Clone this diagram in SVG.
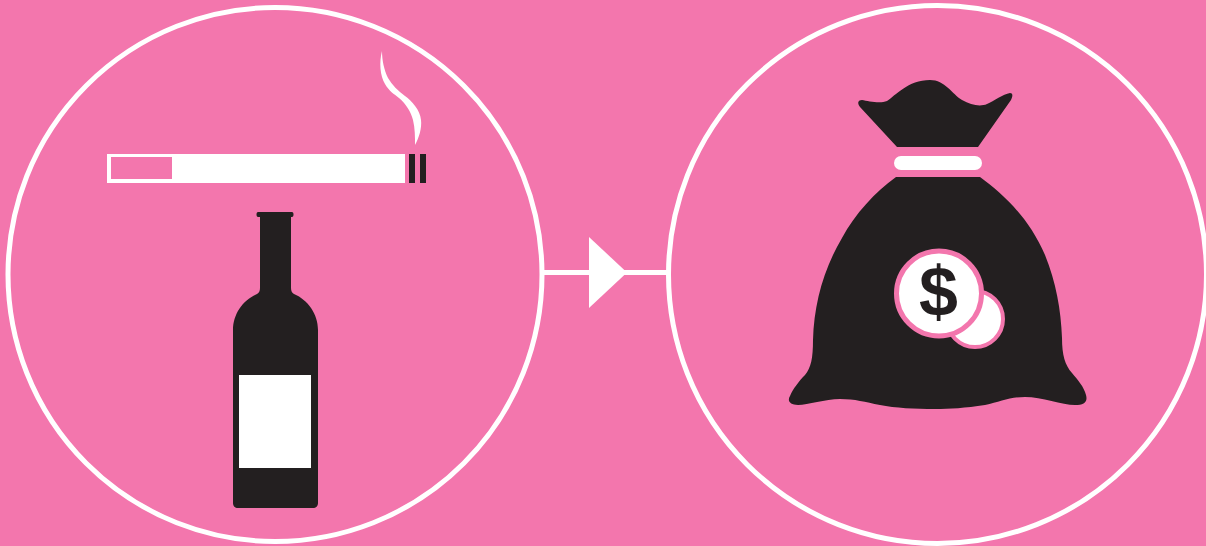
<svg xmlns="http://www.w3.org/2000/svg" width="1206" height="546" viewBox="0 0 1206 546">
<style>
.ring{fill:none;stroke:#fff;stroke-width:5}
.w{fill:#fff}.k{fill:#231f20}.p{fill:#f376ad}
.coin{fill:#fff;stroke:#f376ad}
text{font-family:"Liberation Sans",Arial,sans-serif;font-weight:700;fill:#231f20}
</style>
<rect class="p" width="1206" height="546"/>
<g id="connectors">
<rect class="w" x="544" y="270" width="124" height="5"/>
<path class="w" d="M589 237L627 272.500L589 308Z"/>
</g>
<g id="node-left">
<circle class="ring" cx="275" cy="274.500" r="267"/>
<g id="cigarette">
<rect class="w" x="107" y="154" width="298" height="29"/>
<rect class="p" x="111" y="157" width="61" height="22"/>
<rect class="k" x="409" y="154" width="6" height="29"/>
<rect class="k" x="420" y="154" width="6" height="29"/>
<path class="w" d="M382 51C379 62 380 76 385 84C389 91 394 94 399 98C406 104 411 112 413 120C415 128 415 137 415 145C419 138 422 128 421 120C420 110 412 101 405 96C398 91 392 85 388 78C384 70 382 60 382 51Z"/>
</g>
<g id="bottle">
<path class="k" d="M258 212H292C294 212 294 217 292 217H291V288C291 291 292 293 294 294C308 300 318 314 318 330V503C318 506 316 508 313 508H238C235 508 233 506 233 503V330C233 314 243 300 257 294C259 293 260 291 260 288V217H258C256 217 256 212 258 212Z"/>
<rect class="w" x="239" y="375" width="72" height="93"/>
</g>
</g>
<g id="node-right">
<circle class="ring" cx="937.500" cy="274.500" r="269"/>
<g id="bag">
<path class="k" d="M897 147L860 107C857 103 858 100 862 100C868 101 880 104 887 101C895 96 908 80 930 80C945 80 952 94 962 100C971 105 980 107 987 104C994 101 1003 94 1010 93C1013 93 1013 96 1011 100L978 147Z"/>
<rect class="k" x="896" y="148" width="0" height="0"/>
<rect class="w" x="894" y="156" width="88" height="14" rx="7"/>
<path class="k" d="M896 177H980C1005 195 1030 220 1045 255C1056 282 1061 310 1062 338C1062 355 1065 365 1072 373C1078 380 1084 387 1086 395C1088 402 1084 405 1075 405C1062 405 1042 397 1025 397C1010 397 1000 402 985 405C965 408 950 409 935 409C915 409 895 408 880 405C865 402 855 399 840 399C825 399 808 405 798 405C790 405 787 401 790 396C793 389 799 381 805 375C811 368 813 358 813 340C814 305 823 270 842 238C855 214 875 192 896 177Z"/>
<circle class="coin" cx="975" cy="319" r="28" stroke-width="4"/>
<circle class="coin" cx="939" cy="293.500" r="42.500" stroke-width="5"/>
<text x="938.500" y="316" font-size="70" text-anchor="middle">$</text>
</g>
</g>
</svg>
